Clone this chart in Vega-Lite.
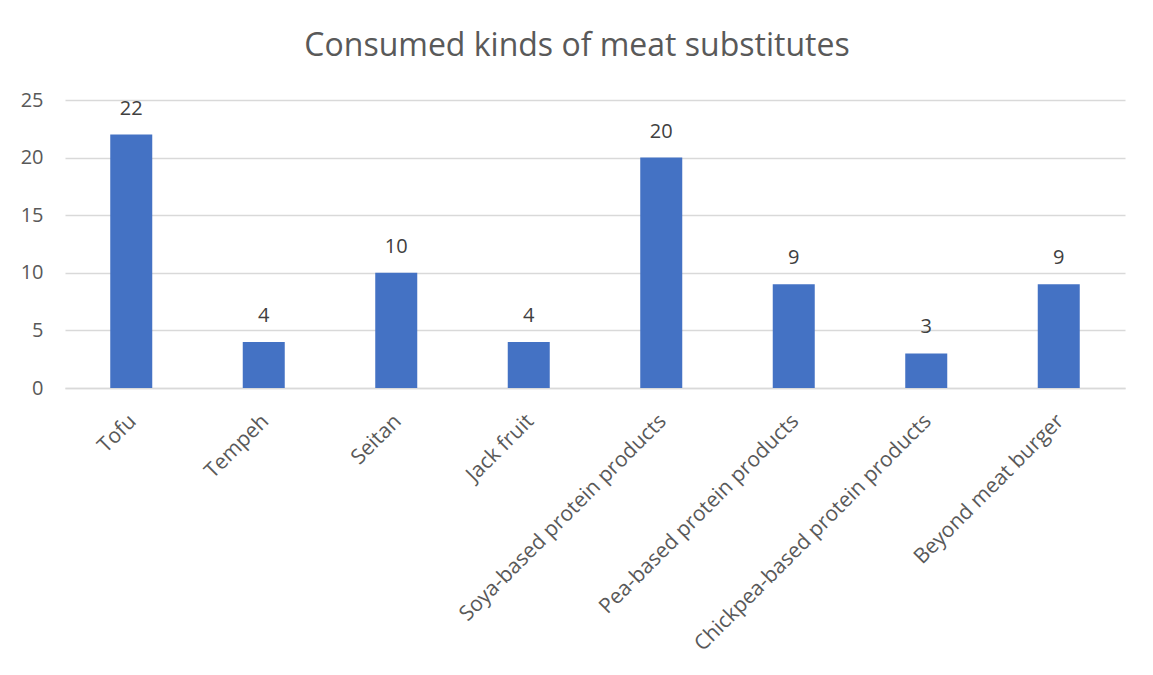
{
  "$schema": "https://vega.github.io/schema/vega-lite/v6.json",
  "width": 1060,
  "height": 288,
  "autosize": {"type": "none"},
  "padding": {"left": 65, "top": 100, "right": 28, "bottom": 287},
  "background": "white",
  "title": {
    "text": "Consumed kinds of meat substitutes",
    "font": "Open Sans",
    "fontSize": 32,
    "fontWeight": "normal",
    "color": "#595959",
    "anchor": "middle",
    "dx": -18,
    "offset": 27
  },
  "data": {
    "values": [
      {"kind": "Tofu", "count": 22},
      {"kind": "Tempeh", "count": 4},
      {"kind": "Seitan", "count": 10},
      {"kind": "Jack fruit", "count": 4},
      {"kind": "Soya-based protein products", "count": 20},
      {"kind": "Pea-based protein products", "count": 9},
      {"kind": "Chickpea-based protein products", "count": 3},
      {"kind": "Beyond meat burger", "count": 9}
    ]
  },
  "encoding": {
    "x": {
      "field": "kind",
      "type": "nominal",
      "sort": null,
      "scale": {"paddingInner": 0.683, "paddingOuter": 0.3415},
      "axis": {
        "title": null,
        "labelAngle": -45,
        "labelFont": "Open Sans",
        "labelFontSize": 21,
        "labelColor": "#595959",
        "labelPadding": 22,
        "labelOffset": -6,
        "ticks": false,
        "domainColor": "#d9d9d9",
        "domainWidth": 1.3,
        "labelLimit": 400
      }
    },
    "y": {
      "field": "count",
      "type": "quantitative",
      "scale": {"domain": [0, 25]},
      "axis": {
        "title": null,
        "values": [0, 5, 10, 15, 20, 25],
        "labelFont": "Open Sans",
        "labelFontSize": 20,
        "labelColor": "#595959",
        "labelPadding": 22,
        "ticks": false,
        "domain": false,
        "gridColor": "#d9d9d9",
        "gridWidth": 1.3
      }
    }
  },
  "layer": [
    {"mark": {"type": "bar", "color": "#4472C4"}},
    {
      "mark": {"type": "text", "dy": -26, "font": "Open Sans", "fontSize": 20, "color": "#404040"},
      "encoding": {"text": {"field": "count", "type": "quantitative"}}
    }
  ],
  "config": {"view": {"stroke": null}}
}
